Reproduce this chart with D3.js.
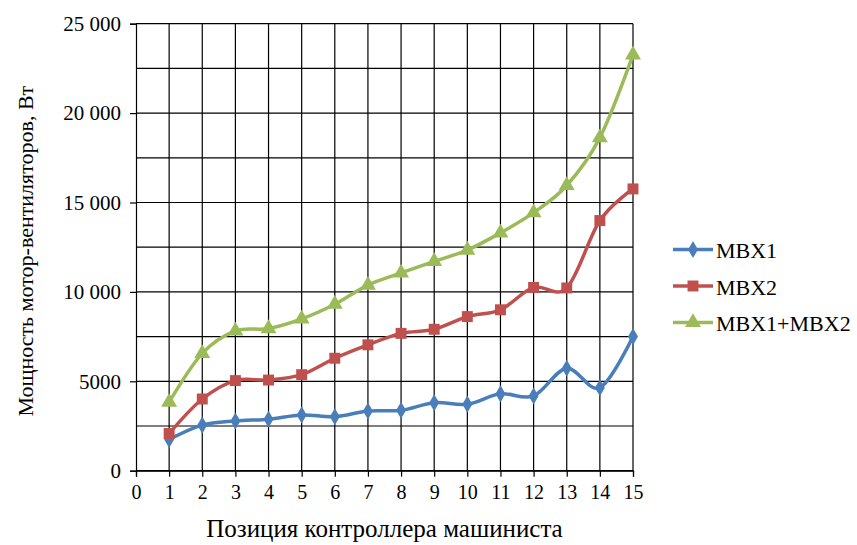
<!DOCTYPE html>
<html>
<head>
<meta charset="utf-8">
<script src="https://cdn.jsdelivr.net/npm/d3@7"></script>
<style>
  html, body { margin: 0; padding: 0; background: #fff; }
  svg text { font-family: "Liberation Serif", "Times New Roman", "DejaVu Serif", serif; }
</style>
</head>
<body>
<svg id="chart" width="857" height="545"></svg>
<script>
// Controller positions and fan motor power (W)
const positions = [1, 2, 3, 4, 5, 6, 7, 8, 9, 10, 11, 12, 13, 14, 15];
const mbx1 = [1750, 2550, 2780, 2880, 3120, 3020, 3340, 3380, 3800, 3720, 4300, 4180, 5730, 4640, 7500];
const mbx2 = [2080, 4010, 5040, 5070, 5370, 6290, 7040, 7680, 7910, 8620, 9000, 10250, 10220, 13990, 15760];
const mbxSum = [3830, 6560, 7820, 7950, 8490, 9310, 10380, 11060, 11710, 12340, 13300, 14430, 15950, 18630, 23260];

const seriesNames = ["MBX1", "MBX2", "MBX1+MBX2"];
const xTicks = [0, 1, 2, 3, 4, 5, 6, 7, 8, 9, 10, 11, 12, 13, 14, 15];
const yTicks = [0, 5000, 10000, 15000, 20000, 25000];
const yTickLabels = ["0", "5000", "10 000", "15 000", "20 000", "25 000"];
const yGrid = [0, 2500, 5000, 7500, 10000, 12500, 15000, 17500, 20000, 22500, 25000];

const xTitle = "Позиция контроллера машиниста";
const yTitle = "Мощность мотор-вентиляторов, Вт";

const colors = ["#4A7EBB", "#C0504D", "#9BBB59"];
const symbols = [d3.symbolDiamond, d3.symbolSquare, d3.symbolTriangle];
const symbolSizes = [85, 120, 110];

const series = [mbx1, mbx2, mbxSum].map((vals, i) => ({
  name: seriesNames[i],
  color: colors[i],
  symbol: symbols[i],
  size: symbolSizes[i],
  points: positions.map((p, j) => ({ x: p, y: vals[j] }))
}));

const svg = d3.select("#chart");
const plot = { left: 136, right: 633, top: 23.7, bottom: 470.7 };

const x = d3.scaleLinear().domain([0, 15]).range([plot.left, plot.right]);
const y = d3.scaleLinear().domain([0, 25000]).range([plot.bottom, plot.top]);

// Grid
const grid = svg.append("g").attr("stroke", "#000").attr("stroke-width", 1.2);
grid.selectAll("line.h").data(yGrid).join("line")
  .attr("class", "h")
  .attr("x1", plot.left).attr("x2", plot.right)
  .attr("y1", d => y(d)).attr("y2", d => y(d));
grid.selectAll("line.v").data(xTicks.slice(1)).join("line")
  .attr("class", "v")
  .attr("x1", d => x(d)).attr("x2", d => x(d))
  .attr("y1", plot.top).attr("y2", plot.bottom);

// Y axis
const yAxis = d3.axisLeft(y).tickValues(yTicks).tickSize(6).tickPadding(9)
  .tickFormat((d, i) => yTickLabels[i]);
const gy = svg.append("g").attr("transform", `translate(${plot.left},0)`).call(yAxis)
  .attr("font-family", null);
gy.select(".domain").attr("stroke", "#000").attr("stroke-width", 1.2);
gy.selectAll(".tick line").attr("stroke", "#000").attr("stroke-width", 1.2);
gy.selectAll(".tick text").attr("font-size", 21).attr("fill", "#000");

// X axis
const xAxis = d3.axisBottom(x).tickValues(xTicks).tickSize(6).tickPadding(8)
  .tickFormat(d3.format("d"));
const gx = svg.append("g").attr("transform", `translate(0,${plot.bottom})`).call(xAxis)
  .attr("font-family", null);
gx.select(".domain").attr("stroke", "#000").attr("stroke-width", 1.2);
gx.selectAll(".tick line").attr("stroke", "#000").attr("stroke-width", 1.2);
gx.selectAll(".tick text").attr("font-size", 20).attr("fill", "#000");

// Axis titles
svg.append("text")
  .attr("x", (plot.left + plot.right) / 2).attr("y", 537)
  .attr("text-anchor", "middle").attr("font-size", 25).attr("fill", "#000")
  .text(xTitle);
svg.append("text")
  .attr("transform", `translate(33,${(plot.top + plot.bottom) / 2 + 4}) rotate(-90)`)
  .attr("text-anchor", "middle").attr("font-size", 22).attr("fill", "#000")
  .text(yTitle);

// Series lines and markers
const line = d3.line().x(d => x(d.x)).y(d => y(d.y)).curve(d3.curveCardinal.tension(0));

const sg = svg.append("g").selectAll("g").data(series).join("g");
sg.append("path")
  .attr("d", d => line(d.points))
  .attr("fill", "none").attr("stroke", d => d.color)
  .attr("stroke-width", 3.5).attr("stroke-linejoin", "round");
sg.each(function (s) {
  d3.select(this).selectAll("path.m").data(s.points).join("path")
    .attr("class", "m")
    .attr("transform", d => `translate(${x(d.x)},${y(d.y)})`)
    .attr("d", d3.symbol().type(s.symbol).size(s.size))
    .attr("fill", s.color);
});

// Legend
const legend = svg.append("g").selectAll("g").data(series).join("g")
  .attr("transform", (d, i) => `translate(673,${249.5 + i * 36.5})`);
legend.append("line")
  .attr("x1", 0).attr("x2", 40).attr("y1", 0).attr("y2", 0)
  .attr("stroke", d => d.color).attr("stroke-width", 3.5);
legend.append("path")
  .attr("transform", "translate(20,0)")
  .attr("d", d => d3.symbol().type(d.symbol).size(d.size)())
  .attr("fill", d => d.color);
legend.append("text")
  .attr("x", 43).attr("y", 8.5)
  .attr("font-size", 22).attr("fill", "#000")
  .text(d => d.name);
</script>
</body>
</html>
